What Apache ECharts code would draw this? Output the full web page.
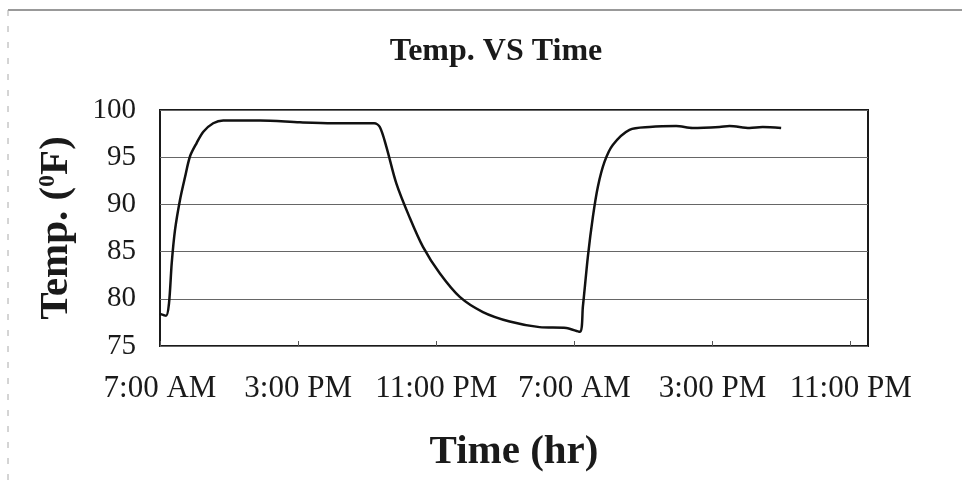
<!DOCTYPE html>
<html>
<head>
<meta charset="utf-8">
<style>
  html, body { margin: 0; padding: 0; background: #fff; }
  #chart { width: 962px; height: 485px; }
</style>
<script src="https://cdn.jsdelivr.net/npm/echarts@6/dist/echarts.min.js"></script>
</head>
<body>
<div id="chart"></div>
<script>
// hours after 7:00 AM on the first day
const hours = [
  0.0, 0.35, 0.52, 0.68, 0.87, 1.16, 1.45, 1.74, 2.12, 2.51, 3.08, 3.66,
  5.8, 8.1, 10.0, 12.4, 12.73, 13.11, 13.69, 14.46, 15.23, 16.2, 17.36,
  18.7, 20.25, 21.98, 23.53, 24.3, 24.49, 24.78, 25.07, 25.36, 25.74,
  26.22, 27.19, 28.35, 29.89, 30.85, 32.4, 32.98, 34.14, 34.9, 35.97
]
const temps = [
  78.4, 78.2, 79.5, 83.8, 87.3, 90.5, 92.9, 95.1, 96.5, 97.7, 98.6, 98.9,
  98.9, 98.7, 98.6, 98.6, 98.2, 96.1, 92.2, 88.6, 85.5, 82.7, 80.2,
  78.6, 77.6, 77.0, 76.9, 76.5, 79.2, 84.5, 88.7, 91.9, 94.5,
  96.3, 97.9, 98.2, 98.3, 98.1, 98.2, 98.3, 98.1, 98.2, 98.1
]
const tickLabels = ['7:00 AM', '3:00 PM', '11:00 PM', '7:00 AM', '3:00 PM', '11:00 PM']

const font = '"Liberation Serif", "Times New Roman", serif'
const chart = echarts.init(document.getElementById('chart'))

chart.setOption({
  backgroundColor: '#fff',
  animation: false,
  title: {
    text: 'Temp. VS Time',
    left: 491,
    textAlign: 'center',
    top: 31,
    textStyle: { fontFamily: font, fontSize: 32, fontWeight: 'bold', color: '#1a1a1a' }
  },
  grid: {
    left: 160, right: 94, top: 110, bottom: 139,
    show: true, borderColor: '#1a1a1a', borderWidth: 2
  },
  xAxis: {
    type: 'value',
    min: 0, max: 41, interval: 8,
    name: 'Time (hr)',
    nameLocation: 'middle',
    nameGap: 86,
    nameTextStyle: { fontFamily: font, fontSize: 41, fontWeight: 'bold', color: '#1a1a1a' },
    axisLine: { show: false },
    axisTick: { show: true, inside: true, length: 5, lineStyle: { color: '#555' } },
    splitLine: { show: false },
    axisLabel: {
      showMaxLabel: false,
      margin: 27,
      fontFamily: font, fontSize: 31, color: '#1a1a1a',
      formatter: v => tickLabels[Math.round(v / 8)] || ''
    }
  },
  yAxis: {
    type: 'value',
    min: 75, max: 100, interval: 5,
    name: '{n|Temp. (}{s|0}{n|F)}',
    nameLocation: 'middle',
    nameGap: 83,
    nameTextStyle: {
      rich: {
        n: { fontFamily: font, fontSize: 41, fontWeight: 'bold', color: '#1a1a1a' },
        s: { fontFamily: font, fontSize: 24, fontWeight: 'bold', color: '#1a1a1a', verticalAlign: 'top', padding: [0, 0, 16, 0] }
      }
    },
    axisLine: { show: false },
    axisTick: { show: false },
    splitLine: { lineStyle: { color: '#666', width: 1 } },
    axisLabel: { margin: 24, fontFamily: font, fontSize: 29, color: '#1a1a1a' }
  },
  series: [{
    type: 'line',
    data: hours.map((h, i) => [h, temps[i]]),
    smooth: 0.3,
    showSymbol: false,
    lineStyle: { color: '#111', width: 2.5 }
  }],
  graphic: [
    { type: 'line', shape: { x1: 8, y1: 10, x2: 962, y2: 10 }, style: { stroke: '#777', lineWidth: 1.5 } },
    { type: 'line', shape: { x1: 8, y1: 10, x2: 8, y2: 485 }, style: { stroke: '#aaa', lineWidth: 1, lineDash: [6, 10] } }
  ]
})
</script>
</body>
</html>
